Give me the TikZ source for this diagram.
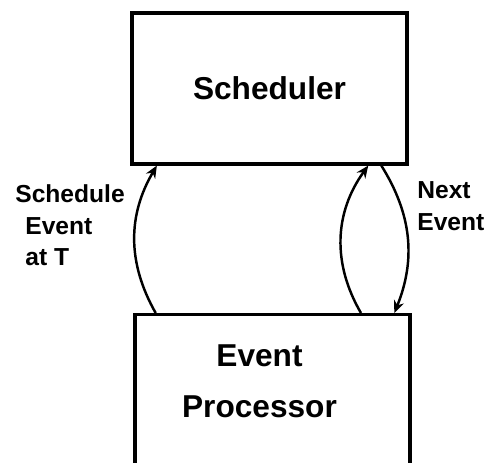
\documentclass[tikz,border=0pt]{standalone}
\usepackage{fontspec}
\setmainfont{Liberation Sans}
\usetikzlibrary{arrows.meta,calc}
\tikzset{
  box/.style={draw=black,line width=1.8pt,minimum width=5.5cm,inner sep=0pt},
  title/.style={font=\fontsize{18}{28}\selectfont\bfseries,align=center,inner sep=0pt},
  lab/.style={font=\fontsize{14}{18}\selectfont\bfseries,align=left,inner sep=0pt},
  flow/.style={-{Stealth[length=7pt,width=6pt]},line width=1.4pt,black}
}
\begin{document}
\begin{tikzpicture}[x=1cm,y=1cm]
\useasboundingbox (0,0) rectangle (10.08,9.24);
\clip (0,0) rectangle (10.08,9.24);
% boxes
\node[box,minimum height=3.02cm] (sched) at (5.39,7.47) {};
\node[title] at (sched.center) {Scheduler};
\node[box,anchor=north,minimum height=3.6cm] (proc) at (5.45,2.98) {};
\node[title] at (5.19,1.62) {Event\\[1pt]Processor};
% connectors
\draw[flow] ($(proc.north west)!0.08!(proc.north east)$) to[bend left=30] ($(sched.south west)!0.095!(sched.south east)$);
\draw[flow] ($(proc.north west)!0.818!(proc.north east)$) to[bend left=33] ($(sched.south west)!0.855!(sched.south east)$);
\draw[flow] ($(sched.south west)!0.902!(sched.south east)$) to[bend left=27] ($(proc.north west)!0.938!(proc.north east)$);
% labels
\node[lab,anchor=west] (sev) at (0.3,4.73) {Schedule\\\hspace{0.2cm}Event\\\hspace{0.2cm}at T};
\node[lab,anchor=west] (nev) at (8.34,5.12) {Next\\Event};
\end{tikzpicture}
\end{document}
